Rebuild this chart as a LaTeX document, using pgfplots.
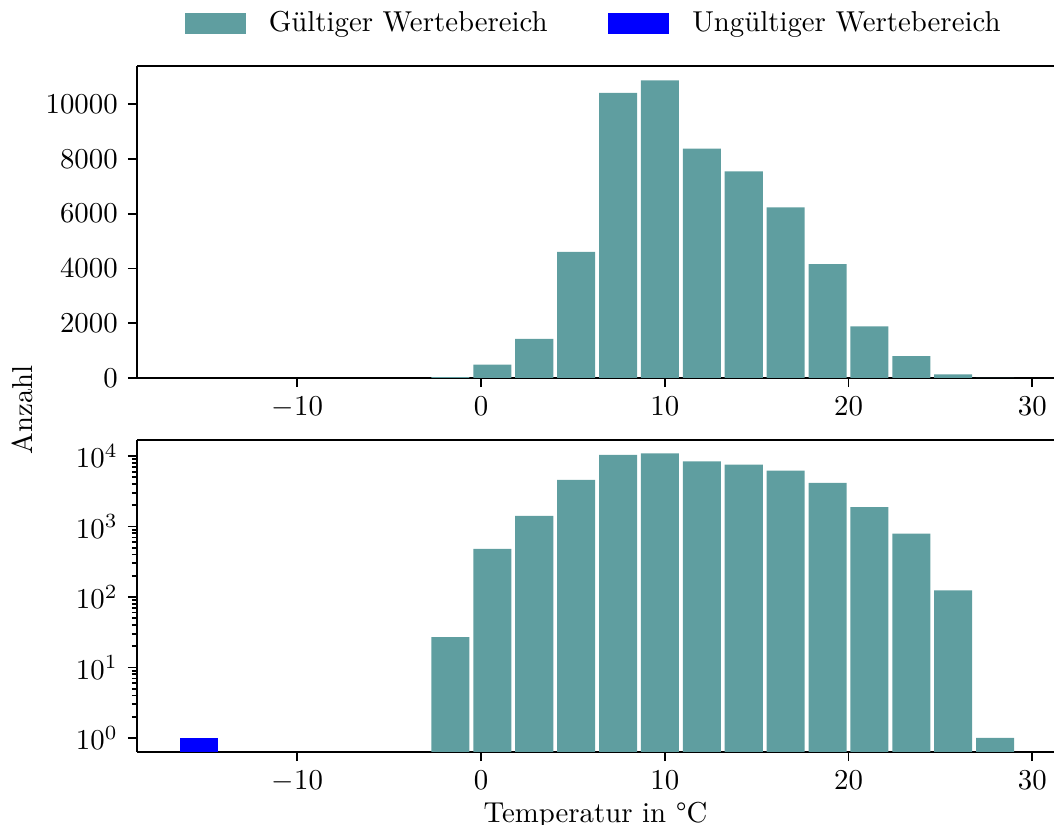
\documentclass[border=0pt]{standalone}
\usepackage{fontspec}
\usepackage{pgfplots}
\pgfplotsset{compat=1.18}
\definecolor{cadet}{RGB}{95,158,160}
\pgfplotstableread{
x y
-1.665 27
0.615 480
2.895 1420
5.175 4600
7.455 10420
9.735 10870
12.015 8380
14.295 7550
16.575 6230
18.855 4160
21.135 1880
23.415 790
25.695 124
27.975 1
}\valid
\pgfplotstableread{
x y
-15.345 1
}\invalid
\begin{document}
\begin{tikzpicture}
\path[use as bounding box] (-47.6pt,22.9pt) rectangle (318.4pt,-263.5pt);
\pgfplotsset{myax/.style={
 scale only axis, width=318.4pt, height=108.3pt,
 xmin=-18.72, xmax=31.18,
 xtick={-10,0,10,20,30},
 tick align=outside, xtick pos=lower, ytick pos=left,
 axis y line*=left, y axis line style={-},
 major tick length=3.2pt, minor tick length=1.8pt,
 tick style={black, line width=0.6pt},
 axis line style={line width=0.8pt},
}}
\begin{axis}[myax, at={(0pt,0pt)}, anchor=north west,
 ymin=0, ymax=11400, ytick={0,2000,4000,6000,8000,10000},
 scaled y ticks=false, yticklabel style={/pgf/number format/1000 sep={}},
 legend style={at={(0.5,1.135)}, anchor=center, draw=none, fill=none,
   legend columns=2,
   /tikz/every odd column/.append style={column sep=6pt},
   /tikz/every even column/.append style={column sep=19pt}},
 legend cell align=left]
\addlegendimage{legend image code/.code={\fill[cadet] (0pt,-3.5pt) rectangle (20.8pt,3.5pt);}}
\addlegendentry{Gültiger Wertebereich}
\addlegendimage{legend image code/.code={\fill[blue] (0pt,-3.5pt) rectangle (20.8pt,3.5pt);}}
\addlegendentry{Ungültiger Wertebereich}
\addplot[ybar, bar width=2.07, bar shift=0pt, fill=cadet, draw=none, forget plot] table[x=x,y=y] {\valid};
\addplot[ybar, bar width=2.07, bar shift=0pt, fill=blue, draw=none, forget plot] table[x=x,y=y] {\invalid};
\end{axis}
\begin{axis}[myax, at={(0pt,-129.9pt)}, anchor=north west,
 ymode=log, log origin=infty, ymin=0.633, ymax=16870, ytick={1,10,100,1000,10000},
 xlabel={Temperatur in °C},
 xlabel style={at={(axis description cs:0.5,0)}, anchor=north, yshift=-13.9pt}]
\addplot[ybar, bar width=2.07, bar shift=0pt, fill=cadet, draw=none] table[x=x,y=y] {\valid};
\addplot[ybar, bar width=2.07, bar shift=0pt, fill=blue, draw=none] table[x=x,y=y] {\invalid};
\end{axis}
\node[rotate=90] at (-39.9pt,-119.4pt) {Anzahl};
\end{tikzpicture}
\end{document}
